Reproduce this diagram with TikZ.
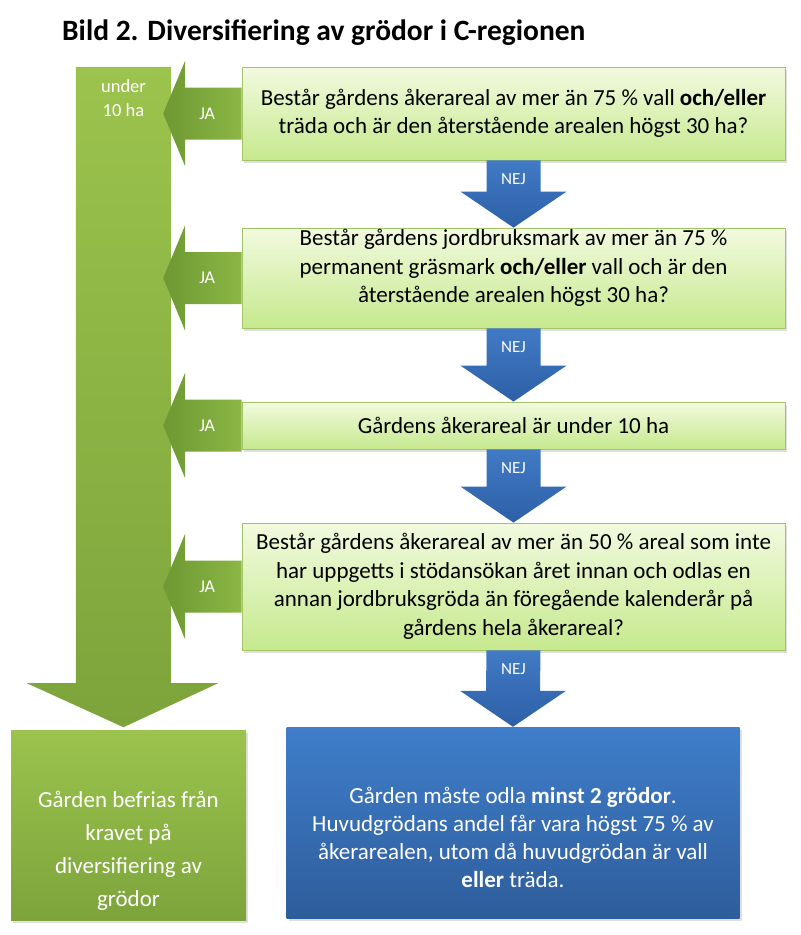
\documentclass[tikz,border=0pt]{standalone}
\usepackage{fontspec}
\setmainfont{Carlito}
\usetikzlibrary{calc,shadows}
\definecolor{grnl}{HTML}{9BC34D}
\definecolor{grnd}{HTML}{7CA43B}
\definecolor{jad}{HTML}{6D9833}
\definecolor{jal}{HTML}{8CB745}
\definecolor{qtop}{HTML}{F2FADF}
\definecolor{qbot}{HTML}{C6E98E}
\definecolor{qline}{HTML}{A3C368}
\definecolor{blul}{HTML}{3F7ECB}
\definecolor{blud}{HTML}{2E5D9B}
\definecolor{nejl}{HTML}{417AC5}
\definecolor{nejd}{HTML}{2D60A6}
\tikzset{
  qbox/.style={draw=qline, line width=0.8pt, top color=qtop, bottom color=qbot,
    minimum width=543pt, inner sep=4pt, align=center, font=\fontsize{23}{28.5}\selectfont,
    drop shadow={opacity=0.25, shadow xshift=2pt, shadow yshift=-3pt}},
  resbox/.style={inner sep=0pt, drop shadow={opacity=0.25, shadow xshift=2pt, shadow yshift=-3pt}},
  restext/.style={text=white, align=center},
  lbl/.style={text=white, font=\fontsize{17}{20}\selectfont},
  ja/.style={left color=jad, right color=jal},
  nej/.style={top color=nejl, bottom color=nejd},
}

\begin{document}
\begin{tikzpicture}[x=1pt, y=-1pt]
  \useasboundingbox (0,0) rectangle (801,935);
  \node[anchor=base west, inner sep=0pt, font=\fontsize{29.5}{35}\selectfont\bfseries] (title) at (62,40)
    {Bild 2. Diversifiering av grödor i C-regionen};

  % big arrow down the left side
  \node[minimum width=95pt, minimum height=616pt, inner sep=0pt] (stem) at (123.5,375) {};
  \shade[top color=grnl, bottom color=grnd] (stem.north west) -- (stem.south west) -- ++(-49,0)
    -- ($(stem.south)+(0,44)$) -- ($(stem.south east)+(47,0)$) -- (stem.south east) -- (stem.north east) -- cycle;
  \node[restext, font=\fontsize{18.5}{23.5}\selectfont] (under) at (123.5,98) {under\\10 ha};

  % questions
  \node[qbox, minimum height=93pt] (q1) at (513.5,113.5)
    {Består gårdens åkerareal av mer än 75 \% vall \textbf{och/eller}\\träda och är den återstående arealen högst 30 ha?};
  \node[qbox, minimum height=100pt] (q2) at (513.5,278) {};
  \node[align=center, font=\fontsize{23}{28.5}\selectfont] (q2txt) at ($(q2)+(0,-10)$)
    {Består gårdens jordbruksmark av mer än 75 \%\\permanent gräsmark \textbf{och/eller} vall och är den\\återstående arealen högst 30 ha?};
  \node[qbox, minimum height=47pt] (q3) at (513.5,425.5) {Gårdens åkerareal är under 10 ha};
  \node[qbox, minimum height=127pt] (q4) at (513.5,586.5)
    {Består gårdens åkerareal av mer än 50 \% areal som inte\\har uppgetts i stödansökan året innan och odlas en\\annan jordbruksgröda än föregående kalenderår på\\gårdens hela åkerareal?};

  % outcomes
  \node[resbox, top color=grnl, bottom color=grnd, minimum width=235pt, minimum height=190pt] (free) at (128.5,825) {};
  \node[restext, font=\fontsize{23}{33}\selectfont] (freetxt) at ($(free)+(0,26)$)
    {Gården befrias från\\kravet på\\diversifiering av\\grödor};
  \node[resbox, top color=blul, bottom color=blud, minimum width=453pt, minimum height=191pt] (must) at (513,822.5) {};
  \node[restext, font=\fontsize{23}{28}\selectfont] (musttxt) at ($(must)+(0,15)$)
    {Gården måste odla \textbf{minst 2 grödor}.\\Huvudgrödans andel får vara högst 75 \% av\\åkerarealen, utom då huvudgrödan är vall\\\textbf{eller} träda.};

  % NEJ arrows
  \foreach \a/\b in {q1/q2,q2/q3,q3/q4,q4/must} {
    \shade[nej] ($(\a.south)+(-27,0)$) -- ($(\b.north)+(-27,-36)$) -- ($(\b.north)+(-53,-36)$) -- (\b.north)
      -- ($(\b.north)+(53,-36)$) -- ($(\b.north)+(27,-36)$) -- ($(\a.south)+(27,0)$) -- cycle;
    \node[lbl] (nej-\a) at ($(\a.south)+(0,19)$) {NEJ};
  }

  % JA arrows
  \foreach \q in {q1,q2,q3,q4} {
    \coordinate (t) at (stem.east |- \q.west);
    \shade[ja] ($(\q.west)+(0,-26)$) -- ($(t)+(14,-26)$) -- ($(t)+(14,-53)$) -- ($(t)+(-8,0)$)
      -- ($(t)+(14,53)$) -- ($(t)+(14,26)$) -- ($(\q.west)+(0,26)$) -- cycle;
    \node[lbl, font=\fontsize{18}{20}\selectfont] (ja-\q) at ($(t)+(36,0)$) {JA};
  }
\end{tikzpicture}
\end{document}
